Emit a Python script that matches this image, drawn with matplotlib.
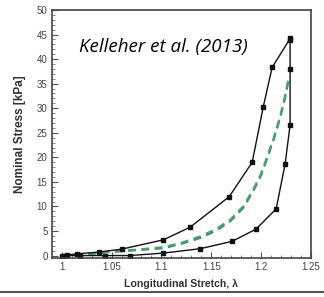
import numpy as np
import matplotlib.pyplot as plt
from matplotlib.ticker import MultipleLocator

# loading branch (upper curve)
load_stretch = [1.0, 1.005, 1.015, 1.037, 1.060, 1.102, 1.129, 1.168, 1.191, 1.202, 1.211, 1.229]
load_stress = [0.0, 0.1, 0.35, 0.7, 1.3, 3.2, 5.8, 12.0, 19.0, 30.2, 38.3, 44.2]

# unloading branch (lower curve)
unload_stretch = [1.229, 1.229, 1.229, 1.224, 1.215, 1.195, 1.171, 1.139, 1.102, 1.068, 1.043, 1.018, 1.003]
unload_stress = [43.8, 38.0, 26.6, 18.6, 9.5, 5.4, 2.9, 1.4, 0.5, 0.0, 0.0, 0.0, 0.0]

# model fits (dashed)
fit_stretch = [1.0, 1.02, 1.048, 1.075, 1.102, 1.12, 1.139, 1.155, 1.169, 1.182, 1.192, 1.200, 1.206, 1.213, 1.219, 1.224, 1.228]
fit_green = [0.0, 0.2, 0.8, 1.2, 1.7, 2.6, 3.9, 5.4, 7.3, 10.0, 13.4, 16.7, 20.1, 24.2, 28.3, 32.5, 36.5]
fit_blue = [0.0, 0.2, 0.7, 1.1, 1.5, 2.4, 3.6, 5.1, 7.0, 9.7, 13.1, 16.4, 19.8, 23.9, 28.0, 32.2, 36.2]

fig = plt.figure(figsize=(3.24, 2.97), dpi=100)
ax = fig.add_axes([0.1596, 0.1313, 0.8004, 0.835])

ax.plot(fit_stretch, fit_blue, color='#4a6cc4', lw=1.6, dashes=(3.5, 2.5))
ax.plot(fit_stretch, fit_green, color='#3fae55', lw=1.6, dashes=(3.5, 2.5))
ax.plot(load_stretch, load_stress, color='#111111', lw=1.0, marker='s', ms=3.5)
ax.plot(unload_stretch, unload_stress, color='#111111', lw=1.0, marker='s', ms=3.5)

ax.set_xlim(0.99, 1.25)
ax.set_ylim(-0.5, 50)
ax.set_xticks([1, 1.05, 1.1, 1.15, 1.2, 1.25])
ax.set_xticklabels(['1', '1.05', '1.1', '1.15', '1.2', '1.25'])
ax.set_yticks(np.arange(0, 51, 5))
ax.xaxis.set_minor_locator(MultipleLocator(0.01))
ax.yaxis.set_minor_locator(MultipleLocator(1))
ax.tick_params(which='both', direction='in', colors='#555555', labelcolor='#444444', labelsize=7)
ax.tick_params(which='major', length=4, width=0.8, pad=3)
ax.tick_params(which='minor', length=2, width=0.5)
for lbl in ax.get_xticklabels() + ax.get_yticklabels():
    lbl.set_family('Liberation Sans')
for s in ax.spines.values():
    s.set_color('#444444')
    s.set_linewidth(1.2)

ax.set_xlabel('Longitudinal Stretch, λ', fontsize=7.6, fontweight='bold', color='#333333', labelpad=5,
              family='Liberation Sans')
ax.set_ylabel('Nominal Stress [kPa]', fontsize=8.5, fontweight='bold', color='#333333', labelpad=8,
              family='Liberation Sans')

fig.text(79 / 324, 1 - 47 / 297, 'Kelleher et al. (2013)', fontsize=13.5, style='italic',
         family='Open Sans', ha='left', va='center', color='black')

# grey rule at the bottom of the picture
fig.add_artist(plt.Line2D([0, 1], [1 - 292 / 297] * 2, color='#555555', lw=1.5,
                          transform=fig.transFigure))

fig.savefig('out.png', dpi=100)
